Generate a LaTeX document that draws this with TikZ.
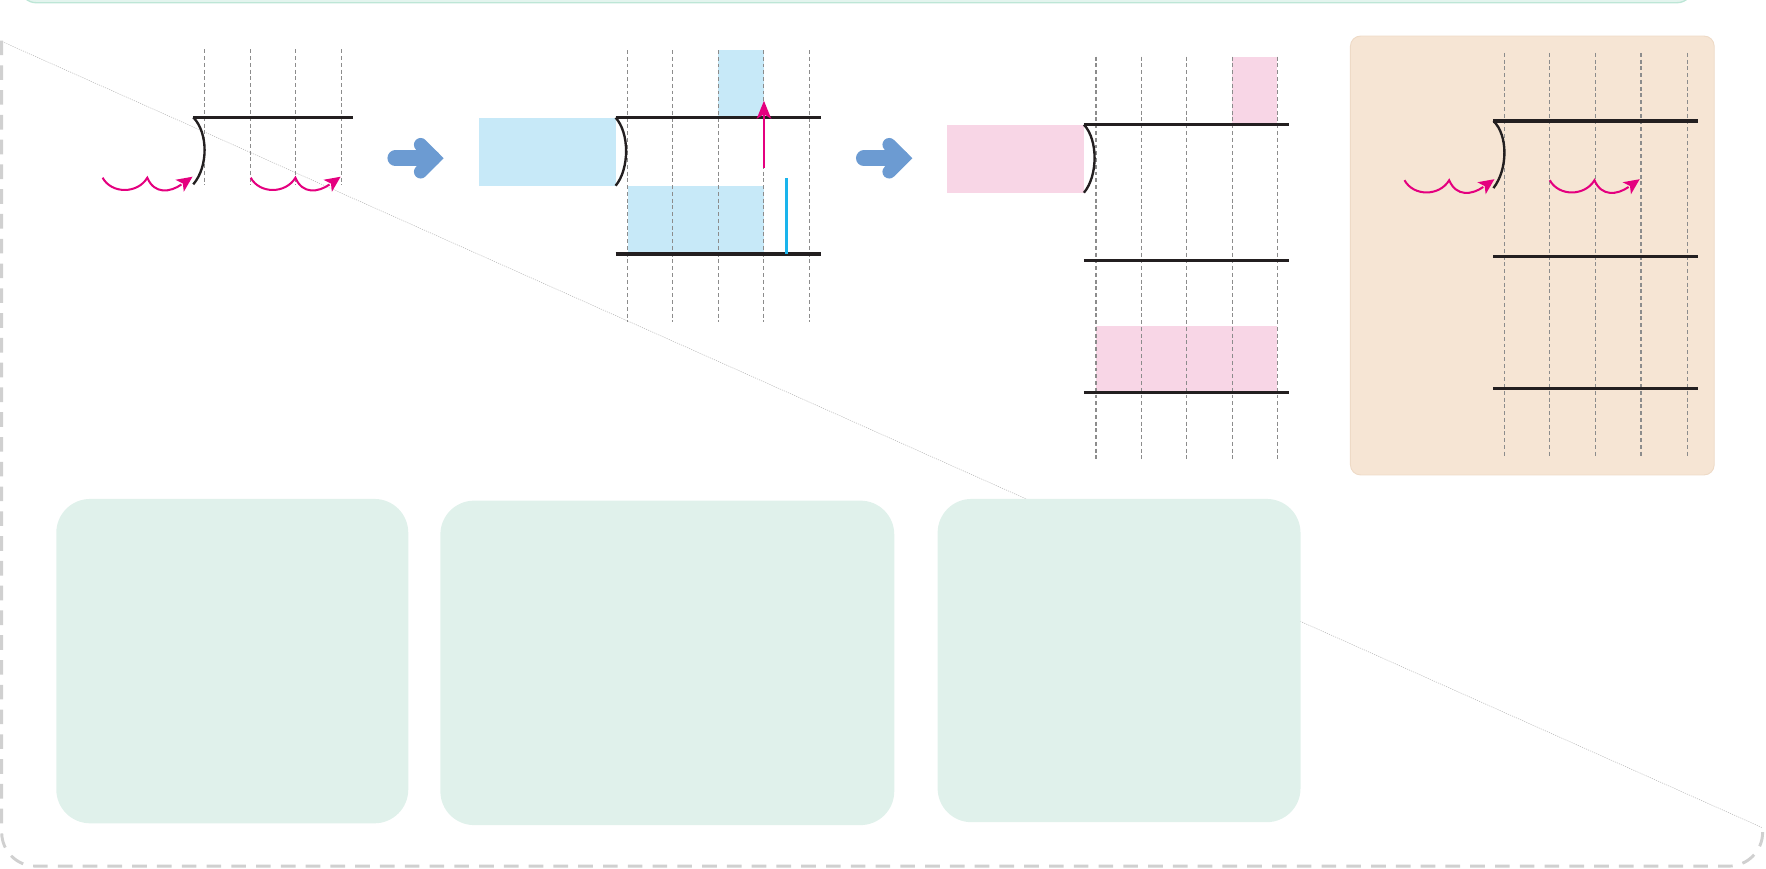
\documentclass[tikz,border=0pt]{standalone}
\usetikzlibrary{arrows.meta}
\definecolor{ink}{HTML}{231F20}
\definecolor{magentaA}{HTML}{E4007F}
\definecolor{lblue}{HTML}{C7E9F8}
\definecolor{lpink}{HTML}{F8D6E6}
\definecolor{tanfill}{HTML}{F6E5D4}
\definecolor{tanedge}{HTML}{EEDAC6}
\definecolor{mintbox}{HTML}{E0F1EB}
\definecolor{mintbar}{HTML}{E3F4EE}
\definecolor{mintedge}{HTML}{BDE6D6}
\definecolor{arrowblue}{HTML}{6C9BD2}
\definecolor{cyanA}{HTML}{1AB4EC}
\definecolor{gridgray}{HTML}{8C8C8C}
\definecolor{bordergray}{HTML}{D0D0D0}
\begin{document}
\begin{tikzpicture}[x=1pt,y=-1pt,
  guide/.style={draw=gridgray,line width=0.9pt,dash pattern=on 3.5pt off 2.5pt},
  rail/.style={draw=ink,line width=2.8pt},
  lip/.style={draw=ink,line width=2.1pt},
  panelbox/.style={fill=mintbox,rounded corners=30pt},
  wavearrow/.pic={
    \draw[magentaA,line width=1.8pt]
      (0,0) .. controls (8,14.5) and (31,14.5) .. (39.7,0)
            .. controls (46,15) and (60,13) .. (70,6);
    \fill[magentaA,shift={(70,6)},rotate=35]
      (12,0) -- (-2,6.5) -- (1.5,0) -- (-2,-6.5) -- cycle;
  },
  bigarrow/.pic={
    \draw[arrowblue,line width=14pt,line cap=round] (0,0) -- (33,0);
    \draw[arrowblue,line width=12pt,line cap=round,line join=miter]
      (22.5,-12) -- (34.5,0) -- (22.5,12);
  }
]
\useasboundingbox (0,0) rectangle (1568,771);

% top mint bar
\draw[draw=mintedge,fill=mintbar,line width=1.2pt,rounded corners=14pt]
  (18,-40) rectangle (1503,2.4);

% faint diagonal
\draw[gray!55,line width=0.5pt,dash pattern=on 1pt off 1pt] (2,37) -- (1565,735);

% outer dashed border
\draw[bordergray,line width=2.6pt,dash pattern=on 13pt off 9pt,rounded corners=30pt]
  (1.5,36) -- (1.5,769) -- (1565,769) -- (1565,735);

% ---------- panel 1 ----------
\foreach \x in {181.8,222.6,262.6,303.1} \draw[guide] (\x,43.8) -- (\x,164.3);
\draw[rail] (171.6,104.2) -- (313.3,104.2);
\draw[lip] (171.6,104.2) .. controls (185,118) and (185,148) .. (171.6,163.7);
\pic at (91.1,157.8) {wavearrow};
\pic at (222.6,157.8) {wavearrow};

\pic at (351,140.5) {bigarrow};

% ---------- panel 2 ----------
\fill[lblue] (425.6,105) rectangle (546.6,164.9);
\fill[lblue] (637.8,44.4) rectangle (678.3,104.5);
\fill[lblue] (557.3,164.9) rectangle (678.3,225.5);
\foreach \x in {557.3,597.2,637.8,678.3,718.6} \draw[guide] (\x,44.4) -- (\x,285.6);
\draw[rail] (546.6,104.5) -- (729,104.5);
\draw[rail] (546.6,225.5) -- (729,225.5);
\draw[lip] (546.6,104.5) .. controls (559,118) and (559,150) .. (546.6,164.9);
\draw[cyanA,line width=2.2pt] (698.5,158.3) -- (698.5,225.5);
\draw[magentaA,line width=1.9pt] (678.3,149.5) -- (678.3,101);
\fill[magentaA] (678.3,89.5) -- (684.8,105.5) -- (678.3,101.5) -- (671.8,105.5) -- cycle;

\pic at (767,140.5) {bigarrow};

% ---------- panel 3 ----------
\fill[lpink] (841,110.7) rectangle (962.4,171.1);
\fill[lpink] (1094.1,50.3) rectangle (1134.1,110.7);
\fill[lpink] (973.1,289.4) rectangle (1134.1,348.3);
\foreach \x in {973.1,1013.1,1053.6,1094.1,1134.1} \draw[guide] (\x,50.3) -- (\x,408.4);
\draw[rail] (962.4,110.7) -- (1144.7,110.7);
\draw[rail] (962.4,231.4) -- (1144.7,231.4);
\draw[rail] (962.4,348.3) -- (1144.7,348.3);
\draw[lip] (962.4,110.7) .. controls (975,124) and (975,156) .. (962.4,171.1);

% ---------- panel 4 ----------
\draw[draw=tanedge,fill=tanfill,line width=0.8pt,rounded corners=9pt]
  (1199,32) rectangle (1522,421.7);
\foreach \x in {1336,1376,1417,1457,1498} \draw[guide] (\x,47) -- (\x,405);
\draw[rail] (1326,107.4) -- (1508,107.4);
\draw[rail] (1326,228) -- (1508,228);
\draw[rail] (1326,345) -- (1508,345);
\draw[lip] (1326,107.4) .. controls (1339,120) and (1339,150) .. (1326,167);
\pic at (1247,160) {wavearrow};
\pic at (1376,160) {wavearrow};

% ---------- bottom boxes ----------
\fill[panelbox] (50,443) rectangle (362.5,731);
\fill[panelbox] (391,444.5) rectangle (794,732.6);
\fill[panelbox] (832.5,443) rectangle (1154.7,730);

\end{tikzpicture}
\end{document}
